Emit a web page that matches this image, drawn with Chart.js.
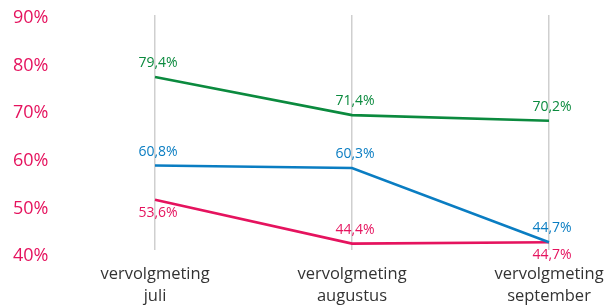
<!DOCTYPE html>
<html>
<head>
<meta charset="utf-8">
<script src="https://cdn.jsdelivr.net/npm/chart.js@4"></script>
<style>
html,body{margin:0;padding:0;background:#fff;}
#wrap{width:606px;height:307px;position:relative;}
</style>
</head>
<body>
<div id="wrap"><canvas id="c"></canvas></div>
<script>
const categories = [["vervolgmeting","juli"],["vervolgmeting","augustus"],["vervolgmeting","september"]];
const greenValues = [79.4, 71.4, 70.2];
const blueValues = [60.8, 60.3, 44.7];
const pinkValues = [53.6, 44.4, 44.7];
const tickLabels = ["40%","50%","60%","70%","80%","90%"];

// label placement (style): -1 above, +1 below
const greenPlace = [-1,-1,-1];
const bluePlace = [-1,-1,-1];
const pinkPlace = [1,-1,1];

const GREEN = '#0b8a3e', BLUE = '#0a7dc2', PINK = '#e5135e';
const OFFSET = 1.8; // axis label offset as seen in the picture

const fmt = v => v.toFixed(1).replace('.', ',') + '%';

const labelPlugin = {
  id: 'vals',
  afterDatasetsDraw(chart) {
    const ctx = chart.ctx;
    ctx.save();
    ctx.font = '14px "Open Sans", sans-serif';
    ctx.textAlign = 'center';
    ctx.textBaseline = 'middle';
    chart.data.datasets.forEach((ds, i) => {
      const meta = chart.getDatasetMeta(i);
      ctx.fillStyle = ds.borderColor;
      meta.data.forEach((pt, j) => {
        const p = ds.place[j];
        const dy = p < 0 ? -14 : 13;
        ctx.fillText(fmt(ds.data[j]), pt.x + 3, pt.y + dy);
      });
    });
    ctx.restore();
  }
};

new Chart(document.getElementById('c'), {
  type: 'line',
  data: {
    labels: categories,
    datasets: [
      {data: greenValues, borderColor: GREEN, place: greenPlace},
      {data: blueValues, borderColor: BLUE, place: bluePlace},
      {data: pinkValues, borderColor: PINK, place: pinkPlace}
    ].map(d => Object.assign(d, {borderWidth: 2.6, pointRadius: 0, tension: 0, fill: false}))
  },
  options: {
    responsive: true,
    maintainAspectRatio: false,
    animation: false,
    layout: {padding: {left: 13, right: 57, top: 15, bottom: 0}},
    plugins: {legend: {display: false}, tooltip: {enabled: false}},
    scales: {
      x: {
        offset: false,
        grid: {display: true, color: '#cfcfcf', lineWidth: 1.5, drawTicks: false},
        border: {display: false},
        afterFit(scale) { scale.height = 57; scale.paddingLeft = 0; scale.paddingRight = 0; },
        ticks: {color: '#333', font: {family: '"Open Sans", sans-serif', size: 16.5, lineHeight: 1.35}, padding: 13, maxRotation: 0, autoSkip: false}
      },
      y: {
        min: 43.06,
        max: 92.43,
        grid: {display: false, drawTicks: false},
        border: {display: false},
        afterBuildTicks(scale) {
          scale.ticks = tickLabels.map((t, i) => ({value: 40 + i * 10 + OFFSET}));
        },
        afterFit(scale) { scale.width = 142; scale.paddingTop = 0; scale.paddingBottom = 0; },
        ticks: {
          crossAlign: 'far',
          autoSkip: false,
          color: PINK,
          font: {family: '"Open Sans", sans-serif', size: 18},
          callback: (v, i) => tickLabels[i]
        }
      }
    }
  },
  plugins: [labelPlugin]
});
</script>
</body>
</html>
